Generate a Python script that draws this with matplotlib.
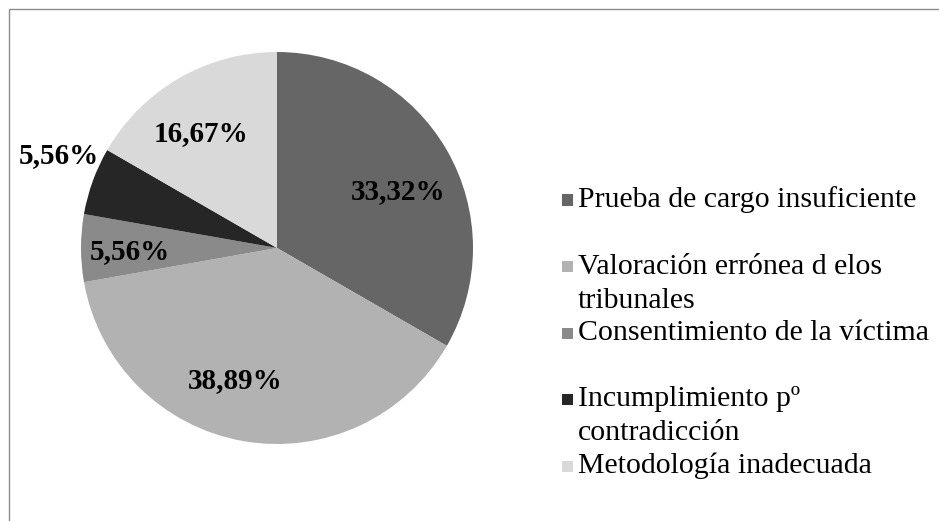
import numpy as np
import matplotlib.pyplot as plt
import matplotlib.patches as mpatches

plt.rcParams['font.family'] = ['Liberation Serif', 'DejaVu Serif']

# datos
categorias = ['Prueba de cargo insuficiente',
              'Valoración errónea d elos\ntribunales',
              'Consentimiento de la víctima',
              'Incumplimiento pº\ncontradicción',
              'Metodología inadecuada']
valores = [33.32, 38.89, 5.56, 5.56, 16.67]
etiquetas = ['33,32%', '38,89%', '5,56%', '5,56%', '16,67%']
colores = ['#666666', '#b2b2b2', '#8a8a8a', '#262626', '#d9d9d9']

# posicion de las etiquetas (radio relativo y giro en grados)
radio_lab = [0.68, 0.71, 0.75, 1.21, 0.70]
giro_lab = [-5, -7.5, 1.5, -3, 3.5]

W, H = 939, 521
fig = plt.figure(figsize=(W / 100, H / 100), dpi=100)

# marco (solo se ven arriba e izquierda)
marco = mpatches.Rectangle((9 / W, -0.1), 1.2, (H - 9) / H + 0.1,
                           transform=fig.transFigure, fill=False,
                           edgecolor='#8c8c8c', linewidth=1)
fig.add_artist(marco)

cx, cy, R = 277, 248, 196
ax = fig.add_axes([(cx - R) / W, (H - cy - R) / H, 2 * R / W, 2 * R / H])
wedges, _ = ax.pie(valores, colors=colores, startangle=90, counterclock=False,
                   radius=1)
ax.set_xlim(-1, 1)
ax.set_ylim(-1, 1)
ax.set_aspect('auto')

for w, lab, r, g in zip(wedges, etiquetas, radio_lab, giro_lab):
    ang = np.deg2rad((w.theta1 + w.theta2) / 2 + g)
    ax.text(r * np.cos(ang), r * np.sin(ang), lab, ha='center', va='center',
            fontsize=21, fontweight='bold', color='black', clip_on=False)

# leyenda
y0, paso, linea = 200, 66.5, 34
for i, (cat, col) in enumerate(zip(categorias, colores)):
    y = y0 + i * paso
    fig.add_artist(mpatches.Rectangle((562 / W, 1 - (y + 5.5) / H), 11 / W, 11 / H,
                                      transform=fig.transFigure,
                                      facecolor=col, edgecolor='none'))
    for k, txt in enumerate(cat.split('\n')):
        fig.text(578 / W, 1 - (y + k * linea) / H, txt, ha='left', va='center',
                 fontsize=21.5, color='black')

plt.savefig('out.png', dpi=100)
